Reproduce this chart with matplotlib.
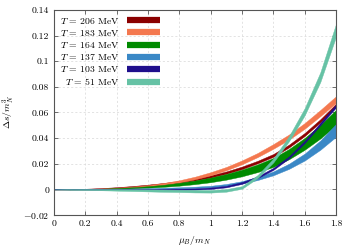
import matplotlib
matplotlib.use("Agg")
import matplotlib.pyplot as plt
import numpy as np

plt.rcParams['font.family'] = 'serif'
plt.rcParams['font.serif'] = ['cmr10', 'DejaVu Serif']
plt.rcParams['mathtext.fontset'] = 'cm'
plt.rcParams['axes.formatter.use_mathtext'] = True

# chemical potential grid (mu_B / m_N)
mu = [0.0, 0.1, 0.2, 0.3, 0.4, 0.5, 0.6, 0.7, 0.8, 0.9,
      1.0, 1.1, 1.2, 1.3, 1.4, 1.5, 1.6, 1.7, 1.8]

temps = [206, 183, 164, 137, 103, 51]
colors = ['#8b0000', '#f4784f', '#008a00', '#3a88c6', '#1f0f8c', '#66c2a5']

# band centres
c206 = [0, 0.0001, 0.0003, 0.0007, 0.0013, 0.0021, 0.0031, 0.0043, 0.0058, 0.0077,
        0.0101, 0.0131, 0.0168, 0.0213, 0.0265, 0.0338, 0.0428, 0.0535, 0.0655]
c183 = [0, 0.00001, 0.0001, 0.0003, 0.0008, 0.0015, 0.0026, 0.0042, 0.0062, 0.0089,
        0.0122, 0.0162, 0.0211, 0.0268, 0.0335, 0.0408, 0.0495, 0.0595, 0.0700]
c164 = [0, 0, 0.0001, 0.0003, 0.0007, 0.0012, 0.0019, 0.0028, 0.0040, 0.0055,
        0.0074, 0.0098, 0.0128, 0.0165, 0.0210, 0.0275, 0.0355, 0.0450, 0.0560]
c137 = [0, 0, 0.0001, 0.0001, 0.0002, 0.0004, 0.0006, 0.0009, 0.0012, 0.0016,
        0.0022, 0.0035, 0.0055, 0.0085, 0.0125, 0.0180, 0.0252, 0.0345, 0.0460]
c103 = [0, 0, 0, 0, 0, 0, 0, 0, 0.0001, 0.0003,
        0.0009, 0.0022, 0.0050, 0.0095, 0.0160, 0.0250, 0.0370, 0.0510, 0.0650]
c51 = [0, 0, -0.0001, -0.0002, -0.0004, -0.0006, -0.0008, -0.0010, -0.0012, -0.0014,
       -0.0015, -0.0008, 0.0015, 0.0100, 0.0225, 0.0395, 0.0605, 0.0875, 0.1240]

# band half widths
w206 = [0, 0.0001, 0.0002, 0.0003, 0.0004, 0.0005, 0.0006, 0.0007, 0.0007, 0.0008,
        0.0009, 0.0009, 0.0010, 0.0010, 0.0011, 0.0011, 0.0012, 0.0012, 0.0013]
w183 = [0, 0.0001, 0.0002, 0.0003, 0.0004, 0.0006, 0.0007, 0.0008, 0.0009, 0.0010,
        0.0012, 0.0013, 0.0015, 0.0016, 0.0018, 0.0020, 0.0022, 0.0024, 0.0026]
w164 = [0, 0.0001, 0.0001, 0.0002, 0.0003, 0.0004, 0.0006, 0.0008, 0.0011, 0.0014,
        0.0018, 0.0022, 0.0026, 0.0030, 0.0035, 0.0040, 0.0046, 0.0053, 0.0060]
w137 = [0, 0.0001, 0.0001, 0.0002, 0.0002, 0.0003, 0.0003, 0.0004, 0.0004, 0.0005,
        0.0006, 0.0007, 0.0009, 0.0012, 0.0015, 0.0020, 0.0027, 0.0036, 0.0050]
w103 = [0, 0.0001, 0.0002, 0.0003, 0.0003, 0.0004, 0.0004, 0.0005, 0.0005, 0.0005,
        0.0006, 0.0006, 0.0007, 0.0007, 0.0008, 0.0008, 0.0009, 0.0010, 0.0011]
w51 = [0, 0.0002, 0.0004, 0.0005, 0.0006, 0.0007, 0.0008, 0.0009, 0.0009, 0.0010,
       0.0010, 0.0010, 0.0010, 0.0012, 0.0015, 0.0020, 0.0028, 0.0038, 0.0050]

centres = [c206, c183, c164, c137, c103, c51]
widths = [w206, w183, w164, w137, w103, w51]

fig = plt.figure(figsize=(3.54, 2.48), dpi=100)
ax = fig.add_axes([0.1525, 0.133, 0.7965, 0.827])

x = np.array(mu)
for T, col, c, w in zip(temps, colors, centres, widths):
    c = np.array(c)
    w = np.array(w)
    ax.fill_between(x, c - w, c + w, color=col, lw=0.3, edgecolor=col,
                    label=rf'$T$ = {T} MeV')

ax.set_xlim(0, 1.8)
ax.set_ylim(-0.02, 0.14)
ax.set_xticks(np.arange(0, 1.81, 0.2))
ax.set_yticks(np.arange(-0.02, 0.141, 0.02))
ax.set_xticklabels(['0', '0.2', '0.4', '0.6', '0.8', '1', '1.2', '1.4', '1.6', '1.8'])
ax.set_yticklabels(['$-0.02$', '0', '0.02', '0.04', '0.06', '0.08', '0.1', '0.12', '0.14'])
ax.tick_params(direction='in', length=3, width=0.6, labelsize=7, top=True, right=True,
               color='#555555')
ax.grid(True, ls=(0, (3, 3)), color='#d8d8d8', lw=0.5)
ax.set_axisbelow(True)
for s in ax.spines.values():
    s.set_color('#555555')
    s.set_linewidth(0.8)

ax.set_xlabel(r'$\mu_B/m_N$', fontsize=7, labelpad=4)
ax.set_ylabel(r'$\Delta s/m_N^3$', fontsize=7)
ax.yaxis.set_label_coords(-0.13, 0.5)

handles, labels = ax.get_legend_handles_labels()
proxies = [plt.Line2D([], [], color=col, lw=4.5, solid_capstyle='butt') for col in colors]
ax.legend(proxies, labels, loc='upper left', frameon=False, fontsize=7, markerfirst=False,
          handlelength=3.4, handletextpad=0.8, labelspacing=0.22,
          borderaxespad=0.2, bbox_to_anchor=(0.0, 1.0))

fig.savefig('out.png', dpi=100)
